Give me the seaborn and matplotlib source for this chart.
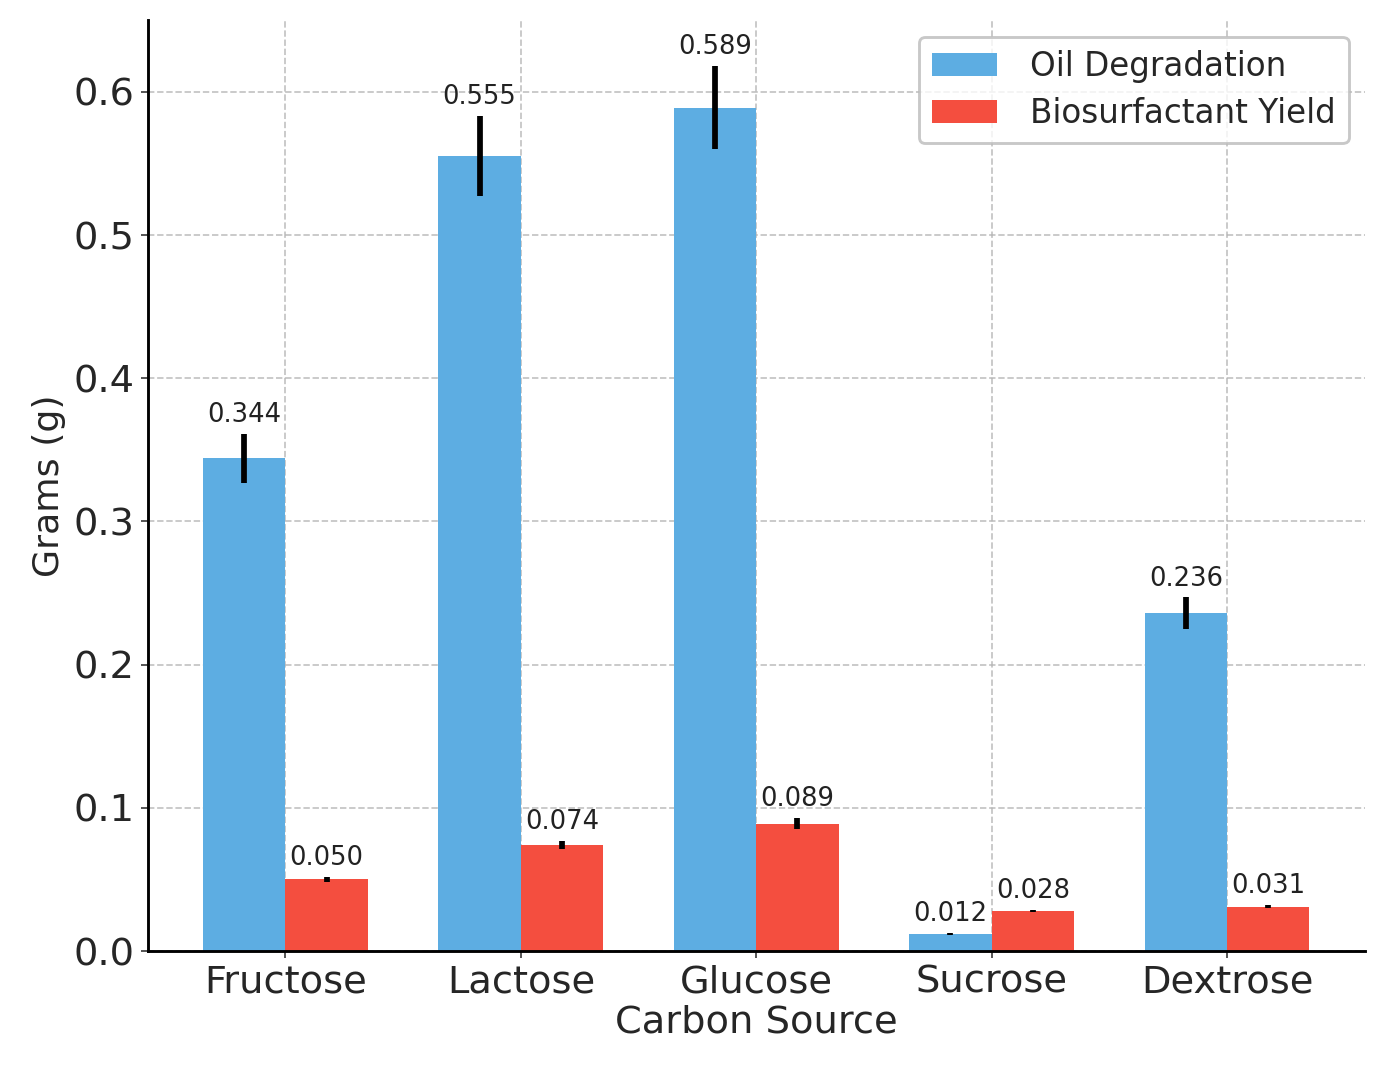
import matplotlib
matplotlib.use("Agg")
import matplotlib.pyplot as plt
import seaborn as sns
import pandas as pd
import numpy as np

carbon_sources = ["Fructose", "Lactose", "Glucose", "Sucrose", "Dextrose"]
oil_degradation = [0.344, 0.555, 0.589, 0.012, 0.236]
oil_err = [0.017, 0.028, 0.029, 0.0005, 0.011]
biosurf_yield = [0.050, 0.074, 0.089, 0.028, 0.031]
biosurf_err = [0.002, 0.003, 0.004, 0.001, 0.001]
series_names = ["Oil Degradation", "Biosurfactant Yield"]
colors = ["#5DADE2", "#F44E3F"]

sns.set_style("ticks")
plt.rcParams['font.family'] = ['DejaVu Sans']

df = pd.DataFrame({
    "Carbon Source": carbon_sources * 2,
    "Grams": oil_degradation + biosurf_yield,
    "Series": [series_names[0]] * 5 + [series_names[1]] * 5,
})

fig = plt.figure(figsize=(10, 1065 / 138), dpi=138)
ax = fig.add_axes([0.107, 0.107, 0.882, 0.874])

sns.barplot(data=df, x="Carbon Source", y="Grams", hue="Series",
            palette=colors, width=0.7, errorbar=None, ax=ax,
            order=carbon_sources, hue_order=series_names, saturation=1,
            linewidth=0)

errs = [oil_err, biosurf_err]
vals = [oil_degradation, biosurf_yield]
bar_containers = list(ax.containers)
for k, cont in enumerate(bar_containers):
    xs = [p.get_x() + p.get_width() / 2 for p in cont.patches]
    ax.errorbar(xs, vals[k], yerr=errs[k], fmt="none", ecolor="black",
                elinewidth=3, capsize=0, zorder=5)
    for x, v, e in zip(xs, vals[k], errs[k]):
        ax.text(x, v + e + 0.004, f"{v:.3f}", ha="center", va="bottom",
                fontsize=13.5, color="#222222")

ax.set_ylim(0, 0.65)
ax.set_yticks(np.arange(0, 0.61, 0.1))
ax.set_yticklabels([f"{t:.1f}" for t in np.arange(0, 0.61, 0.1)])
ax.tick_params(axis="both", labelsize=20)
ax.set_xlabel("Carbon Source", fontsize=20, labelpad=2)
ax.set_ylabel("Grams (g)", fontsize=19)
ax.grid(True, linestyle="--", color="#b5b5b5", linewidth=0.9, alpha=0.8)
ax.set_axisbelow(True)
sns.despine(ax=ax)
for s in ["left", "bottom"]:
    ax.spines[s].set_linewidth(1.5)
    ax.spines[s].set_color("black")

leg = ax.legend(loc="upper right", fontsize=17, frameon=True,
                handlelength=2.0, handleheight=0.7, borderpad=0.4,
                labelspacing=0.45, handletextpad=1.0)
leg.get_frame().set_edgecolor("#bbbbbb")
leg.get_frame().set_linewidth(1.5)
leg.set_title(None)

fig.savefig("out.png", dpi=138)
